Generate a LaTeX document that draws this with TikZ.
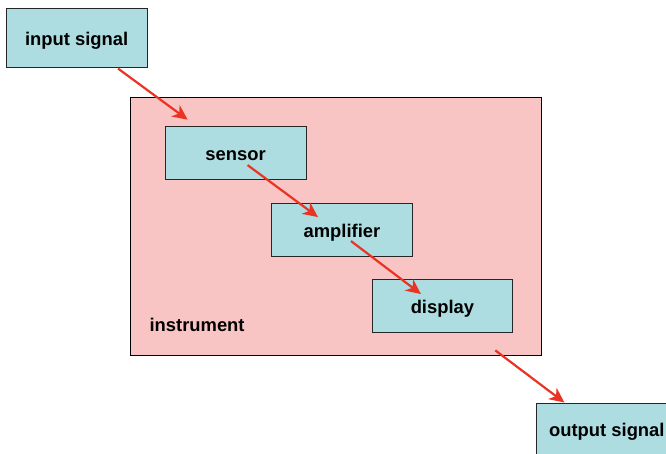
\documentclass[tikz,border=0pt]{standalone}
\usepackage{fontspec}
\setmainfont{Liberation Sans}
\usepackage{tikz}
\usetikzlibrary{arrows.meta}

\definecolor{blockcyan}{RGB}{173,221,225}
\definecolor{instrumentpink}{RGB}{249,196,196}
\definecolor{arrowred}{RGB}{235,51,36}

\begin{document}
\begin{tikzpicture}[x=1pt,y=-1pt,
        blocktext/.style={font=\fontsize{18.4}{20}\selectfont\bfseries},
        stagebox/.style={blocktext, draw=black!85, line width=0.9pt, fill=blockcyan,
                         minimum width=141pt, minimum height=53pt, inner sep=0pt,
                         text height=18pt, text depth=3pt},
        flow/.style={draw=arrowred, line width=2.2pt,
                     -{Stealth[length=15pt,width=14pt,inset=4.5pt]}}]
            \draw[use as bounding box, transparent] (0,0) rectangle (666,453);

            % The instrument casing (drawn first, blocks sit on top of it)
            \node[draw=black, line width=0.8pt, fill=instrumentpink,
                  minimum width=412pt, minimum height=258pt] (instrument) at (336,226) {};
            \node[blocktext] (instrumentLabel) at (197,325) {instrument};

            % SIGNAL CHAIN
            \node[stagebox, minimum height=59pt] (input) at (76.5,37.5) {input signal};
            \node[stagebox] (sensor)    at (235.5,152.5) {sensor};     % stage 1
            \node[stagebox] (amplifier) at (342,229.5)   {amplifier};  % stage 2
            \node[stagebox] (display)   at (442.5,305.5) {display};    % stage 3
            \node[stagebox] (output)    at (607,429.5)   {output signal};

            % Arrow ends (all arrows run parallel, offset from their blocks)
            \coordinate (inputOut)     at ([shift={(41.5,1)}]input.south);
            \coordinate (sensorIn)     at ([shift={(23,-6)}]sensor.north west);
            \coordinate (sensorOut)    at ([shift={(12,12.5)}]sensor.center);
            \coordinate (amplifierIn)  at ([shift={(-24,-12.5)}]amplifier.center);
            \coordinate (amplifierOut) at ([shift={(9,11.5)}]amplifier.center);
            \coordinate (displayIn)    at ([shift={(-21.5,-11.5)}]display.center);
            \coordinate (instrumentOut) at ([shift={(-47,-5)}]instrument.south east);
            \coordinate (outputIn)     at ([shift={(28.5,0)}]output.north west);

            % Arrows
            \draw[flow] (inputOut) -- (sensorIn);
            \draw[flow] (sensorOut) -- (amplifierIn);
            \draw[flow] (amplifierOut) -- (displayIn);
            \draw[flow] (instrumentOut) -- (outputIn);

\end{tikzpicture}
\end{document}
